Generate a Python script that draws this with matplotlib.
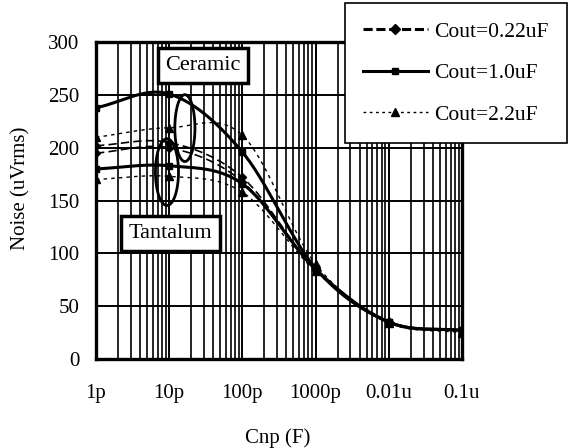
import numpy as np
import matplotlib.pyplot as plt
from matplotlib.patches import Ellipse

plt.rcParams["font.family"] = ["Liberation Serif", "DejaVu Serif"]
plt.rcParams["font.size"] = 15

# -------------------- Data --------------------
cnp = [1e-12, 1e-11, 1e-10, 1e-9, 1e-8, 1e-7]
xtick_labels = ["1p", "10p", "100p", "1000p", "0.01u", "0.1u"]

cer_022 = [202, 205, 172, 85, 35, 27]
cer_10 = [238, 251, 196, 86, 35, 27]
cer_22 = [210, 219, 212, 90, 36, 26]
tan_022 = [195, 200, 168, 84, 35, 27]
tan_10 = [180, 183, 166, 85, 35, 27]
tan_22 = [170, 173, 158, 83, 34, 25]


def smooth(x, y, n=30):
    # Excel-like smoothed line (Catmull-Rom in log-x)
    lx = np.log10(x)
    y = np.asarray(y, float)
    px = np.concatenate([[2 * lx[0] - lx[1]], lx, [2 * lx[-1] - lx[-2]]])
    py = np.concatenate([[2 * y[0] - y[1]], y, [2 * y[-1] - y[-2]]])
    xs, ys = [], []
    t = np.linspace(0, 1, n)

    def cr(a, b, c, d):
        return 0.5 * (2 * b + (-a + c) * t + (2 * a - 5 * b + 4 * c - d) * t ** 2
                      + (-a + 3 * b - 3 * c + d) * t ** 3)

    for i in range(1, len(px) - 2):
        xs.append(cr(*px[i - 1:i + 3]))
        ys.append(cr(*py[i - 1:i + 3]))
    return 10 ** np.concatenate(xs), np.concatenate(ys)


fig = plt.figure(figsize=(5.69, 4.48), dpi=100)
ax = fig.add_axes([0.1687, 0.1987, 0.643, 0.707])

styles = {
    "0.22": dict(ls=(0, (5, 2.5)), lw=1.2, marker="D", ms=4.5),
    "1.0": dict(ls="-", lw=2.2, marker="s", ms=4.5),
    "2.2": dict(ls=(0, (2.5, 3)), lw=1.0, marker="^", ms=5.5),
}

for key, cer, tan in [("0.22", cer_022, tan_022), ("1.0", cer_10, tan_10), ("2.2", cer_22, tan_22)]:
    st = styles[key]
    for vals in (cer, tan):
        sx, sy = smooth(cnp, vals)
        ax.plot(sx, sy, color="black", ls=st["ls"], lw=st["lw"], zorder=3)
        ax.plot(cnp, vals, ls="none", marker=st["marker"], ms=st["ms"], color="black", zorder=4)

# legend handles (thicker as in the original)
h1, = ax.plot([], [], color="black", ls=(0, (3, 1.2)), lw=2.2, marker="D", ms=5)
h2, = ax.plot([], [], color="black", ls="-", lw=2.2, marker="s", ms=5)
h3, = ax.plot([], [], color="black", ls=(0, (2, 2.5)), lw=1.0, marker="^", ms=6)
leg = fig.legend([h1, h2, h3], ["Cout=0.22uF", "Cout=1.0uF", "Cout=2.2uF"],
                 loc="upper right", bbox_to_anchor=(0.996, 0.993), frameon=True,
                 fancybox=False, framealpha=1, edgecolor="black", fontsize=15.5,
                 handlelength=3.0, labelspacing=1.0, borderpad=0.85,
                 handletextpad=0.3, borderaxespad=0.0)
leg.get_frame().set_linewidth(1.2)

ax.set_xscale("log")
ax.set_xlim(1e-12, 1e-7)
ax.set_ylim(0, 300)
ax.set_xticks(cnp)
ax.set_xticklabels(xtick_labels)
ax.set_yticks(np.arange(0, 301, 50))
ax.tick_params(which="both", length=0)
ax.tick_params(axis="x", pad=18)
ax.tick_params(axis="y", pad=12)
ax.grid(True, which="major", color="black", lw=1.4)
ax.grid(True, which="minor", axis="x", color="black", lw=1.2)
for s in ax.spines.values():
    s.set_linewidth(2.4)

ax.set_xlabel("Cnp (F)")
ax.set_ylabel("Noise (uVrms)")
ax.xaxis.set_label_coords(0.497, -0.218)
ax.yaxis.set_label_coords(-0.18, 0.54)

# annotation boxes and ellipses
ax.text(2.9e-11, 278, "Ceramic", ha="center", va="center", zorder=5, fontsize=16,
        bbox=dict(boxstyle="square,pad=0.35", fc="white", ec="black", lw=2.5))
ax.text(1.03e-11, 119, "Tantalum", ha="center", va="center", zorder=5, fontsize=16,
        bbox=dict(boxstyle="square,pad=0.35", fc="white", ec="black", lw=2.5))

ax.add_patch(Ellipse((0.243, 0.729), 0.055, 0.211, transform=ax.transAxes, fc="none",
                     ec="black", lw=2, zorder=5))
ax.add_patch(Ellipse((0.194, 0.590), 0.063, 0.211, transform=ax.transAxes, fc="none",
                     ec="black", lw=2, zorder=5))

fig.savefig("out.png", dpi=100)
